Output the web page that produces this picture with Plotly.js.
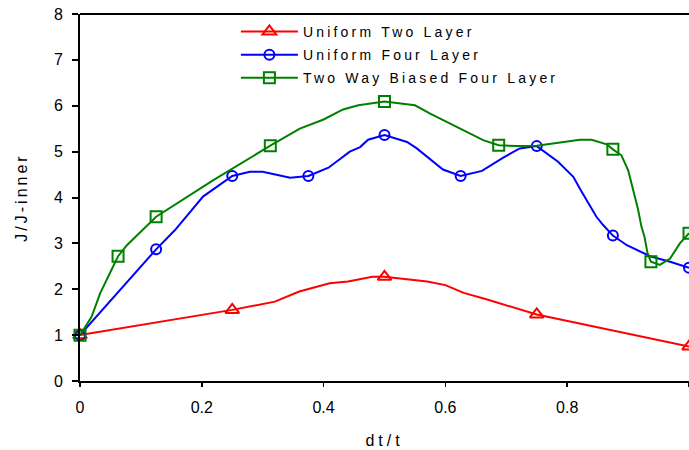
<!DOCTYPE html>
<html>
<head>
<meta charset="utf-8">
<script src="https://cdn.plot.ly/plotly-3.0.1.min.js"></script>
<style>
html, body { margin: 0; padding: 0; background: #fff; }
#chart { width: 689px; height: 450px; }
.xtitle { letter-spacing: 4px; }
.ytitle { letter-spacing: 3px; }
.legendtext { letter-spacing: 3.2px; }
</style>
</head>
<body>
<div id="chart"></div>
<script>
// Uniform Two Layer
var redX = [0, 0.12, 0.25, 0.32, 0.36, 0.41, 0.44, 0.48, 0.5, 0.57, 0.6, 0.63, 0.67, 0.75, 0.79, 1.0];
var redY = [1.0, 1.26, 1.55, 1.73, 1.95, 2.13, 2.17, 2.27, 2.27, 2.17, 2.09, 1.92, 1.77, 1.45, 1.34, 0.75];
var redMarked = [1, 0, 1, 0, 0, 0, 0, 0, 1, 0, 0, 0, 0, 1, 0, 1];

// Uniform Four Layer
var blueX = [0, 0.125, 0.156, 0.202, 0.25, 0.279, 0.30, 0.345, 0.375, 0.408, 0.443, 0.46, 0.473, 0.5, 0.537, 0.553, 0.596, 0.625, 0.66, 0.695, 0.722, 0.75, 0.785, 0.81, 0.824, 0.837, 0.848, 0.859, 0.875, 0.898, 0.936, 0.969, 1.0];
var blueY = [1.0, 2.87, 3.29, 4.02, 4.47, 4.56, 4.56, 4.43, 4.47, 4.65, 5.0, 5.1, 5.26, 5.36, 5.21, 5.07, 4.61, 4.47, 4.58, 4.87, 5.07, 5.12, 4.78, 4.45, 4.12, 3.83, 3.58, 3.40, 3.17, 2.96, 2.72, 2.60, 2.47];
var blueMarked = [1, 1, 0, 0, 1, 0, 0, 0, 1, 0, 0, 0, 0, 1, 0, 0, 0, 1, 0, 0, 0, 1, 0, 0, 0, 0, 0, 0, 1, 0, 0, 0, 1];

// Two Way Biased Four Layer
var greenX = [0, 0.019, 0.033, 0.049, 0.0625, 0.077, 0.125, 0.219, 0.3125, 0.361, 0.4, 0.432, 0.457, 0.5, 0.55, 0.575, 0.596, 0.629, 0.662, 0.6875, 0.717, 0.75, 0.79, 0.821, 0.84, 0.865, 0.875, 0.889, 0.9, 0.909, 0.916, 0.922, 0.927, 0.932, 0.9375, 0.952, 0.969, 0.985, 1.0];
var greenY = [1.0, 1.40, 1.91, 2.35, 2.72, 2.96, 3.58, 4.38, 5.13, 5.5, 5.70, 5.92, 6.01, 6.09, 6.01, 5.83, 5.69, 5.47, 5.25, 5.14, 5.12, 5.13, 5.21, 5.26, 5.26, 5.16, 5.05, 4.92, 4.6, 4.16, 3.76, 3.36, 3.14, 2.78, 2.60, 2.53, 2.67, 3.0, 3.22];
var greenMarked = [1, 0, 0, 0, 1, 0, 1, 0, 1, 0, 0, 0, 0, 1, 0, 0, 0, 0, 0, 1, 0, 0, 0, 0, 0, 0, 1, 0, 0, 0, 0, 0, 0, 0, 1, 0, 0, 0, 1];

var seriesNames = ['Uniform Two Layer', 'Uniform Four Layer', 'Two Way Biased Four Layer'];
var xTicks = [0, 0.2, 0.4, 0.6, 0.8, 1];
var yTicks = [0, 1, 2, 3, 4, 5, 6, 7, 8];

function markColors(flags, c) {
  return flags.map(function (f) { return f ? c : 'rgba(0,0,0,0)'; });
}

function makeTrace(x, y, flags, name, color, symbol, size, group) {
  return {
    x: x, y: y, name: name, type: 'scatter', mode: 'lines+markers',
    legendgroup: group,
    line: { color: color, width: 2 },
    marker: { symbol: symbol, size: size, color: markColors(flags, color), line: { width: 2, color: markColors(flags, color) } },
    cliponaxis: false
  };
}

var data = [
  makeTrace(redX, redY, redMarked, seriesNames[0], '#ff0000', 'triangle-up-open', 12, 'a'),
  makeTrace(blueX, blueY, blueMarked, seriesNames[1], '#0000ff', 'circle-open', 10, 'b'),
  makeTrace(greenX, greenY, greenMarked, seriesNames[2], '#008000', 'square-open', 11, 'c')
];

var fontFam = 'Liberation Sans, Arial, sans-serif';

var layout = {
  width: 689, height: 450,
  margin: { l: 80, r: 0, t: 14, b: 69 },
  paper_bgcolor: '#ffffff', plot_bgcolor: '#ffffff',
  font: { family: fontFam, color: '#000000', size: 16 },
  showlegend: true,
  legend: {
    x: 0.256, y: 0.995, xanchor: 'left', yanchor: 'top',
    bgcolor: 'rgba(0,0,0,0)', borderwidth: 0,
    font: { family: fontFam, size: 14, color: '#000' },
    traceorder: 'grouped', tracegroupgap: 2, itemwidth: 57
  },
  xaxis: {
    range: [0, 1], tickvals: xTicks, ticktext: xTicks.map(String),
    showline: true, linecolor: '#000', linewidth: 2,
    ticks: 'outside', ticklen: 4, tickwidth: 1.5, tickcolor: '#000',
    showgrid: false, zeroline: false,
    tickfont: { size: 16 }, ticklabelstandoff: 7,
    title: { text: 'dt/t', font: { size: 16 }, standoff: 20 }
  },
  yaxis: {
    range: [0, 8], tickvals: yTicks, ticktext: yTicks.map(String),
    showline: true, linecolor: '#000', linewidth: 2,
    ticks: 'outside', ticklen: 6, tickwidth: 2, tickcolor: '#000',
    showgrid: false, zeroline: false,
    tickfont: { size: 16 }, ticklabelstandoff: 6,
    title: { text: 'J/J-inner', font: { size: 16 }, standoff: 22 }
  },
  shapes: [
    { type: 'line', xref: 'paper', yref: 'paper', x0: 0, x1: 1, y0: 1, y1: 1, line: { color: '#000', width: 2 } }
  ]
};

Plotly.newPlot('chart', data, layout, { displayModeBar: false, staticPlot: true });
</script>
</body>
</html>
